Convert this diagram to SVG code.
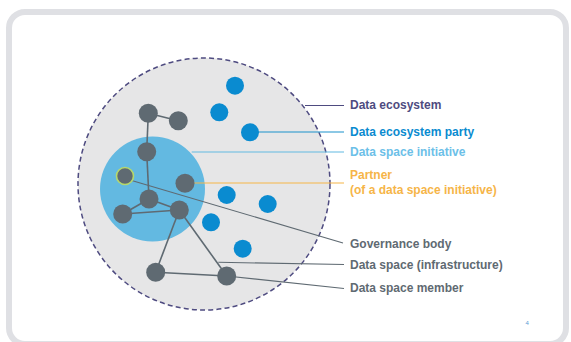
<svg xmlns="http://www.w3.org/2000/svg" width="571" height="342" viewBox="0 0 571 342">
  <style>
    .lbl { font-family: "Liberation Sans", Arial, sans-serif; font-weight: bold; font-size: 12px; }
    .node { fill: #5f6a72; }
    .party { fill: #0a8bd0; }
    .edge { stroke: #5f6a72; stroke-width: 1.6; fill: none; }
    .lead { stroke-width: 1.1; fill: none; }
  </style>
  <rect x="0" y="0" width="571" height="342" fill="#ffffff"/>
  <rect id="frame" x="9" y="12" width="557" height="332" rx="16" ry="16" fill="#ffffff" stroke="#dfe0e4" stroke-width="6"/>

  <g id="data-ecosystem">
    <circle cx="204" cy="184" r="126" fill="#e6e6e7" stroke="#4e4b80" stroke-width="1.5" stroke-dasharray="5 3.2"/>
  </g>
  <g id="data-space-initiative">
    <circle cx="152.5" cy="189" r="52.5" fill="#63b9e1"/>
  </g>

  <g id="connectors">
    <g class="edge">
      <line x1="148.3" y1="113.3" x2="178.3" y2="120.7"/>
      <line x1="148.3" y1="113.3" x2="146.7" y2="151.7"/>
      <line x1="146.7" y1="151.7" x2="149" y2="199"/>
      <line x1="149" y1="199" x2="122.7" y2="214"/>
      <line x1="122.7" y1="214" x2="179.3" y2="210"/>
      <line x1="149" y1="199" x2="179.3" y2="210"/>
      <line x1="179.3" y1="210" x2="155.7" y2="272.3"/>
      <line x1="179.3" y1="210" x2="226.7" y2="276"/>
      <line x1="155.7" y1="272.3" x2="226.7" y2="276"/>
    </g>
    <line class="lead" x1="305" y1="105.5" x2="344" y2="105.5" stroke="#4e4b80"/>
    <line class="lead" x1="250" y1="132" x2="344" y2="132" stroke="#1a92cc"/>
    <line class="lead" x1="191.7" y1="152" x2="344" y2="152" stroke="#63b9e1"/>
    <line class="lead" x1="185" y1="183" x2="344" y2="183" stroke="#f6b548"/>
    <line class="lead" x1="130" y1="180" x2="343" y2="243" stroke="#5f6a72"/>
    <line class="lead" x1="218.3" y1="262.3" x2="344" y2="264.5" stroke="#5f6a72"/>
    <line class="lead" x1="226.7" y1="276" x2="344" y2="288.5" stroke="#5f6a72"/>
  </g>

  <g id="parties">
    <circle class="party" cx="235" cy="85.7" r="9"/>
    <circle class="party" cx="219.3" cy="112.3" r="9"/>
    <circle class="party" cx="250" cy="132.3" r="9"/>
    <circle class="party" cx="226.7" cy="195" r="9"/>
    <circle class="party" cx="267.7" cy="204" r="9"/>
    <circle class="party" cx="211" cy="222.3" r="9"/>
    <circle class="party" cx="242.7" cy="248.7" r="9"/>
  </g>

  <g id="members">
    <circle id="nA" class="node" cx="148.3" cy="113.3" r="9.5"/>
    <circle id="nB" class="node" cx="178.3" cy="120.7" r="9.5"/>
    <circle id="nC" class="node" cx="146.7" cy="151.7" r="9.5"/>
    <circle id="nD" class="node" cx="125" cy="176" r="8.5" stroke="#b6d86c" stroke-width="1.6"/>
    <circle id="nE" class="node" cx="185" cy="183.3" r="9.5"/>
    <circle id="nF" class="node" cx="149" cy="199" r="9.5"/>
    <circle id="nG" class="node" cx="122.7" cy="214" r="9.5"/>
    <circle id="nH" class="node" cx="179.3" cy="210" r="9.5"/>
    <circle id="nI" class="node" cx="155.7" cy="272.3" r="9.5"/>
    <circle id="nJ" class="node" cx="226.7" cy="276" r="9.5"/>
  </g>

  <g id="labels">
    <text class="lbl" x="350" y="109" fill="#4e4b80">Data ecosystem</text>
    <text class="lbl" x="350" y="136" fill="#0a8bd0">Data ecosystem party</text>
    <text class="lbl" x="350" y="156" fill="#6cc0e8">Data space initiative</text>
    <text class="lbl" x="350" y="179" fill="#f6b548">Partner</text>
    <text class="lbl" x="350" y="193.5" fill="#f6b548">(of a data space initiative)</text>
    <text class="lbl" x="350" y="247.5" fill="#5f6a72">Governance body</text>
    <text class="lbl" x="350" y="268.5" fill="#5f6a72">Data space (infrastructure)</text>
    <text class="lbl" x="350" y="292" fill="#5f6a72">Data space member</text>
  </g>
  <text x="525.5" y="325" font-family="Liberation Sans, Arial, sans-serif" font-size="6" fill="#5b9bd5">4</text>
</svg>
